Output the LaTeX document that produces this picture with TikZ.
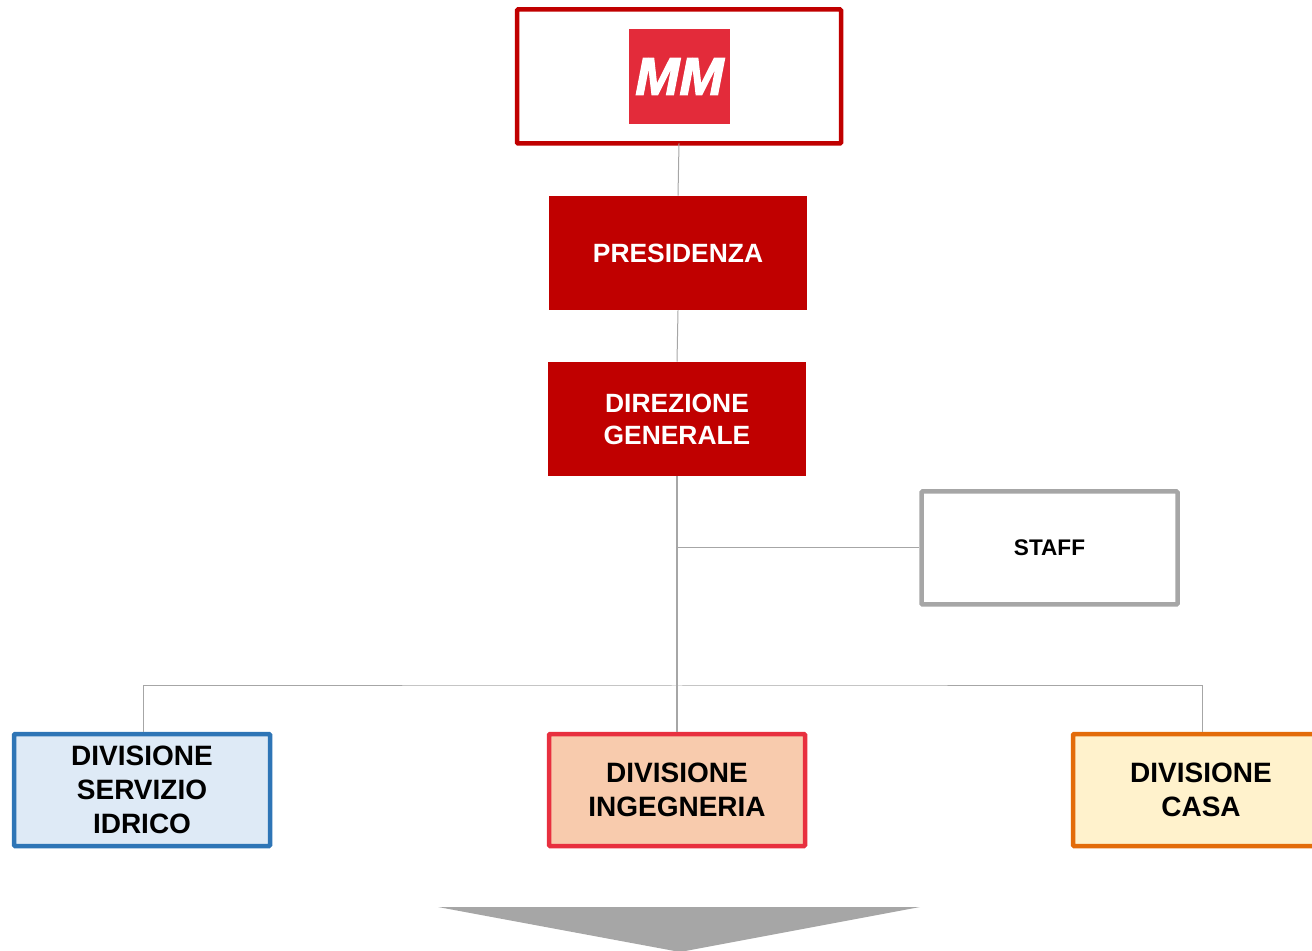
\documentclass[tikz,border=0pt]{standalone}
\usepackage{fontspec}
\setmainfont{Liberation Sans}
\newfontfamily\logofont[FakeBold=2.5]{Liberation Sans}
\definecolor{darkred}{HTML}{C00000}
\definecolor{logored}{HTML}{E32B3A}
\definecolor{linegray}{HTML}{A6A6A6}
\definecolor{idricoline}{HTML}{2E75B6}
\definecolor{idricofill}{HTML}{DEEAF6}
\definecolor{ingline}{HTML}{E8303F}
\definecolor{ingfill}{HTML}{F8CBAD}
\definecolor{casaline}{HTML}{E36C0A}
\definecolor{casafill}{HTML}{FFF2CC}
\tikzset{
  redbox/.style={fill=darkred,text=white,align=center,minimum width=129pt,minimum height=57pt,
    font=\fontsize{13.2}{16}\selectfont\bfseries},
  divbox/.style={draw=#1line,fill=#1fill,line width=2.25pt,rounded corners=0.5pt,align=center,
    minimum width=128pt,minimum height=56pt,font=\fontsize{14}{17}\selectfont\bfseries},
  link/.style={draw=linegray,line width=0.65pt},
  thinlink/.style={draw=linegray,line width=0.5pt}
}
\begin{document}
\begin{tikzpicture}[x=0.5pt,y=-0.5pt]
\useasboundingbox (0,0) rectangle (1312,951);
\node[draw=darkred,line width=2.25pt,rounded corners=0.5pt,outer sep=0pt,minimum width=162pt,minimum height=67pt] (vertice) at (679,76.5) {};
\node[fill=logored,text=white,inner sep=0pt,minimum width=50.5pt,minimum height=47.5pt,
  font=\logofont\fontsize{26.5}{26.5}\selectfont\bfseries\itshape] (logo) at (679.5,76.5) {MM};
\node[redbox] (presidenza) at (678,253) {PRESIDENZA};
\node[redbox] (direzione) at (677,419) {DIREZIONE\\GENERALE};
\node[draw=linegray,line width=2.25pt,rounded corners=0.5pt,minimum width=128pt,minimum height=56.5pt,
  font=\fontsize{11.3}{13}\selectfont\bfseries] (staff) at (1049.5,548) {STAFF};
\node[divbox=idrico] (idrico) at (142,790) {DIVISIONE\\SERVIZIO\\IDRICO};
\node[divbox=ing] (ingegneria) at (677,790) {DIVISIONE\\INGEGNERIA};
\node[divbox=casa] (casa) at (1201,790) {DIVISIONE\\CASA};
\coordinate (bus) at (677,686);
\draw[thinlink] (vertice.south) -- (presidenza.north);
\draw[thinlink] (presidenza.south) -- (direzione.north);
\draw[link] (direzione.south) -- (ingegneria.north);
\draw[thinlink] (direzione.south |- staff.west) -- (staff.west);
\draw[thinlink] ([xshift=0.5pt]idrico.north) |- (bus) -| ([xshift=0.5pt]casa.north);
\fill[linegray] (438,907) -- (920,907) -- (680,952) -- cycle;
\end{tikzpicture}
\end{document}
